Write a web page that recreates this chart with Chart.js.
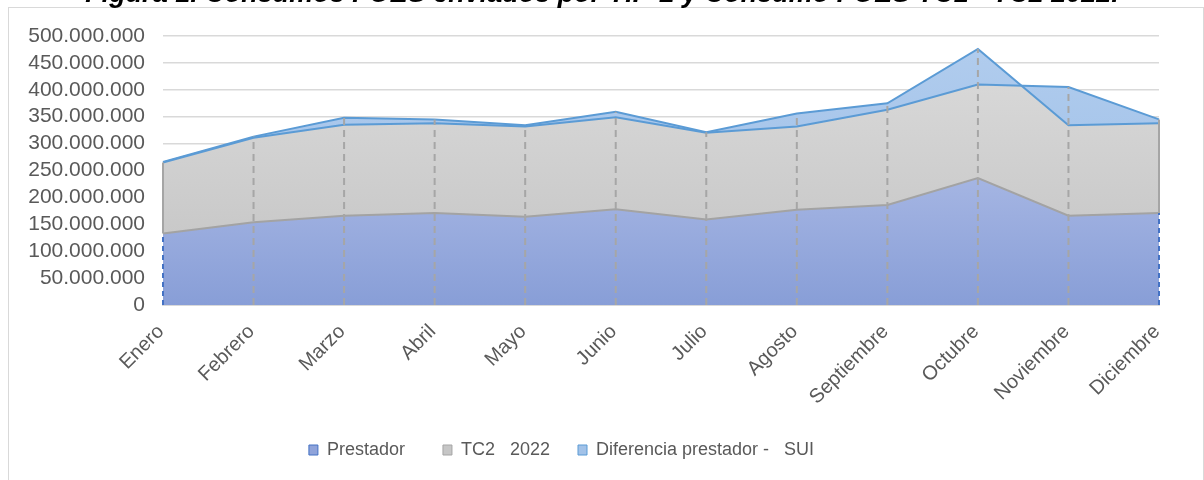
<!DOCTYPE html>
<html>
<head>
<meta charset="utf-8">
<script src="https://cdn.jsdelivr.net/npm/chart.js"></script>
<style>
    html, body { margin: 0; padding: 0; background: #fff; width: 1204px; height: 480px; overflow: hidden; }
    #frame { position: absolute; left: 8px; top: 7px; width: 1196px; height: 540px; border: 1px solid #d9d9d9; box-sizing: border-box; }
    #title { position: absolute; left: 0; top: -20px; width: 1204px; text-align: center; white-space: nowrap;
             font: italic bold 27px "Liberation Sans", Arial, sans-serif; line-height: 27px; color: #000; z-index: 2; }
    #wrap { position: absolute; left: 0; top: 0; width: 1204px; height: 469px; }
</style>
</head>
<body>
<div id="frame"></div>
<div id="title">Figura 1. Consumos FOES enviados por TIP-2 y Consumo FOES TC1 - TC2 2022.</div>
<div id="wrap"><canvas id="chart"></canvas></div>
<script>
const months = ['Enero', 'Febrero', 'Marzo', 'Abril', 'Mayo', 'Junio', 'Julio', 'Agosto', 'Septiembre', 'Octubre', 'Noviembre', 'Diciembre'];
const seriesNames = ['Prestador  ', 'TC2   2022', 'Diferencia prestador -   SUI'];

// valores por mes (se apilan en el orden: prestador, TC2, diferencia)
const prestador = [133000000, 154000000, 166000000, 171000000, 164000000, 178000000, 159000000, 177000000, 186000000, 236000000, 166000000, 171000000];
const tc2 = [132000000, 157000000, 169000000, 167000000, 168000000, 171000000, 161000000, 155000000, 177000000, 174000000, 239000000, 174000000];
const diferencia = [1000000, 2000000, 13000000, 7000000, 2000000, 10000000, 1000000, 24000000, 12000000, 66000000, -71000000, -7000000];

const yTicks = [0, 50000000, 100000000, 150000000, 200000000, 250000000, 300000000, 350000000, 400000000, 450000000, 500000000];

// acumulados para dibujar el area apilada (negativos incluidos)
const topPrestador = prestador.slice();
const topTc2 = prestador.map((v, i) => v + tc2[i]);
const topTotal = topTc2.map((v, i) => v + diferencia[i]);

function fmt(v) {
    return String(v).replace(/\B(?=(\d{3})+(?!\d))/g, '.');
}

function vGradient(stops) {
    return (ctx) => {
        const area = ctx.chart.chartArea;
        if (!area) return stops[1];
        const g = ctx.chart.ctx.createLinearGradient(0, area.top, 0, area.bottom);
        g.addColorStop(0, stops[0]);
        g.addColorStop(1, stops[1]);
        return g;
    };
}

const legendColors = [
    { fill: '#8fa3da', stroke: '#4472c4' },
    { fill: '#c6c6c6', stroke: '#a5a5a5' },
    { fill: '#a2c2e8', stroke: '#5b9bd5' }
];

// lineas de proyeccion punteadas y bordes laterales
const dropLines = {
    id: 'dropLines',
    afterDatasetsDraw(chart) {
        const { ctx, scales: { x, y } } = chart;
        const base = y.getPixelForValue(0);
        ctx.save();
        ctx.lineWidth = 2;
        months.forEach((m, i) => {
            const px = x.getPixelForValue(i);
            if (i === 0 || i === months.length - 1) {
                ctx.setLineDash([5, 4]);
                ctx.strokeStyle = '#4472c4';
                ctx.beginPath();
                ctx.moveTo(px, base);
                ctx.lineTo(px, y.getPixelForValue(topPrestador[i]));
                ctx.stroke();
                ctx.setLineDash([]);
                ctx.strokeStyle = '#a5a5a5';
                ctx.beginPath();
                ctx.moveTo(px, y.getPixelForValue(topPrestador[i]));
                ctx.lineTo(px, y.getPixelForValue(topTc2[i]));
                ctx.stroke();
            } else {
                ctx.setLineDash([7, 5]);
                ctx.strokeStyle = '#a6a6a6';
                ctx.beginPath();
                ctx.moveTo(px, base);
                ctx.lineTo(px, y.getPixelForValue(Math.max(topTc2[i], topTotal[i])));
                ctx.stroke();
            }
        });
        ctx.restore();
    }
};

// la leyenda del original no esta centrada en el area del grafico
const legendShift = {
    id: 'legendShift',
    afterLayout(chart) {
        chart.legend.left -= 18;
        chart.legend.right -= 18;
    }
};

new Chart(document.getElementById('chart'), {
    type: 'line',
    data: {
        labels: months,
        datasets: [
            {
                label: seriesNames[0],
                data: topPrestador,
                fill: 'origin',
                order: 2,
                backgroundColor: vGradient(['#c5cff0', '#889ed7']),
                borderColor: '#a3a3a3',
                borderWidth: 2
            },
            {
                label: seriesNames[1],
                data: topTc2,
                fill: 0,
                order: 1,
                backgroundColor: vGradient(['#dcdcdc', '#c2c2c2']),
                borderColor: '#5b9bd5',
                borderWidth: 2
            },
            {
                label: seriesNames[2],
                data: topTotal,
                fill: 1,
                order: 0,
                backgroundColor: vGradient(['#b2cdee', '#97bbe6']),
                borderColor: '#5b9bd5',
                borderWidth: 2
            }
        ]
    },
    options: {
        responsive: true,
        maintainAspectRatio: false,
        animation: false,
        layout: { padding: { top: 36, left: 0, right: 45, bottom: 0 } },
        elements: { point: { radius: 0, hoverRadius: 0 }, line: { tension: 0 } },
        plugins: {
            filler: { drawTime: 'beforeDatasetsDraw' },
            tooltip: { enabled: false },
            title: { display: false },
            legend: {
                position: 'bottom',
                labels: {
                    boxWidth: 9,
                    boxHeight: 10,
                    padding: 28,
                    color: '#595959',
                    font: { family: '"Liberation Sans", Arial, sans-serif', size: 18 },
                    generateLabels: () => seriesNames.map((name, i) => ({
                        text: name,
                        fillStyle: legendColors[i].fill,
                        strokeStyle: legendColors[i].stroke,
                        lineWidth: 1,
                        fontColor: '#595959',
                        datasetIndex: i,
                        hidden: false
                    }))
                }
            }
        },
        scales: {
            x: {
                offset: false,
                grid: { display: false, drawTicks: false },
                border: { display: true, color: '#d9d9d9', width: 2 },
                ticks: {
                    color: '#595959',
                    font: { family: '"Liberation Sans", Arial, sans-serif', size: 20 },
                    minRotation: 45,
                    maxRotation: 45,
                    padding: 15,
                    labelOffset: -2,
                    autoSkip: false
                },
                afterFit: (scale) => { scale.height = 108; }
            },
            y: {
                min: 0,
                max: 500000000,
                grid: { color: '#d9d9d9', lineWidth: 1.5, drawTicks: false },
                border: { display: false },
                afterBuildTicks: (scale) => { scale.ticks = yTicks.map(v => ({ value: v })); },
                ticks: {
                    color: '#595959',
                    font: { family: '"Liberation Sans", Arial, sans-serif', size: 21 },
                    padding: 18,
                    autoSkip: false,
                    callback: (v) => fmt(v)
                },
                afterFit: (scale) => { scale.width = 163; }
            }
        }
    },
    plugins: [dropLines, legendShift]
});
</script>
</body>
</html>
